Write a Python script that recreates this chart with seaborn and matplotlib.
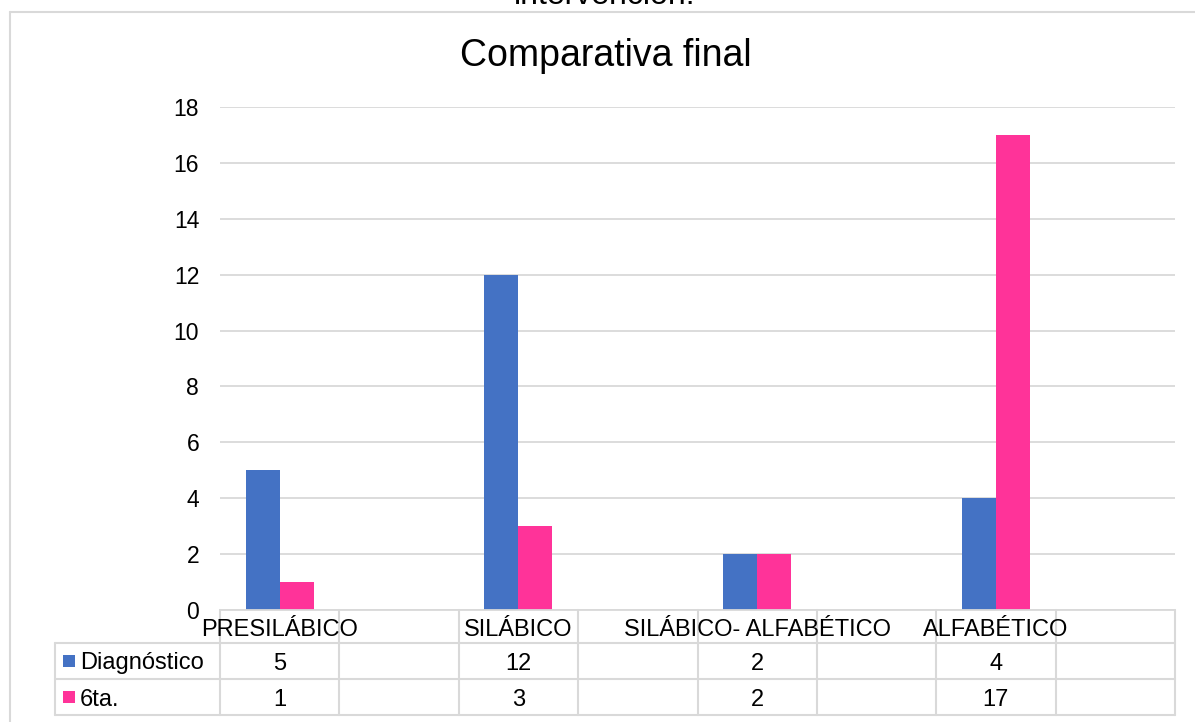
import numpy as np
import pandas as pd
import matplotlib
matplotlib.use("Agg")
import matplotlib.pyplot as plt
import seaborn as sns
from matplotlib import transforms
from matplotlib.patches import Rectangle
from matplotlib.lines import Line2D

# ---------------- data ----------------
categories = ["PRESILÁBICO", "SILÁBICO", "SILÁBICO- ALFABÉTICO", "ALFABÉTICO"]
series_names = ["Diagnóstico", "6ta."]
diagnostico = [5, 12, 2, 4]
sexta = [1, 3, 2, 17]
y_ticks = [0, 2, 4, 6, 8, 10, 12, 14, 16, 18]
title = "Comparativa final"
top_text = "intervención."
colors = ["#4472C4", "#FF3399"]

# ---------------- style ----------------
sns.set_theme(style="white")
plt.rcParams['font.family'] = ['Liberation Sans', 'DejaVu Sans']

W, H = 1195, 722
fig = plt.figure(figsize=(W / 100, H / 100), dpi=100, facecolor="white")


def fx(x):
    return x / W


def fy(y):
    return 1 - y / H


ax = fig.add_axes([fx(220), fy(610), fx(1175) - fx(220), fy(107) - fy(610)])

# interleave empty category slots like the original
order = []
for i, c in enumerate(categories):
    order += [c, " " * (i + 1)]

df = pd.DataFrame({
    "categoria": categories * 2,
    "serie": [series_names[0]] * len(categories) + [series_names[1]] * len(categories),
    "valor": diagnostico + sexta,
})

sns.barplot(data=df, x="categoria", y="valor", hue="serie", order=order,
            hue_order=series_names, palette=colors, width=0.57, gap=0,
            saturation=1, errorbar=None, legend=False, linewidth=0,
            edgecolor="none", ax=ax)

ax.set_xlim(-0.5, len(order) - 0.5)
ax.set_ylim(0, 18)
ax.set_yticks(y_ticks)
ax.set_xticks([])
ax.set_xlabel("")
ax.set_ylabel("")
ax.yaxis.grid(True, color="#D9D9D9", lw=1.3)
ax.set_axisbelow(True)
for s in ["top", "right", "left"]:
    ax.spines[s].set_visible(False)
ax.spines["bottom"].set_color("#D9D9D9")
ax.spines["bottom"].set_linewidth(1.3)
ax.tick_params(axis="y", length=0, pad=15, labelsize=16.5, colors="black")

# ---------------- data table ----------------
trans = transforms.blended_transform_factory(ax.transData, fig.transFigure)
grid_c = "#D9D9D9"
fs = 17

for k in range(len(order) + 1):
    ax.add_artist(Line2D([k - 0.5, k - 0.5], [fy(610), fy(715)], transform=trans,
                         color=grid_c, lw=1.5, clip_on=False))
for yy in [643, 679, 715]:
    fig.add_artist(Line2D([fx(55), fx(1175)], [fy(yy), fy(yy)], transform=fig.transFigure,
                          color=grid_c, lw=1.5))
fig.add_artist(Line2D([fx(55), fx(55)], [fy(643), fy(715)], transform=fig.transFigure,
                      color=grid_c, lw=1.5))

for i, c in enumerate(categories):
    ax.text(order.index(c), fy(627), c, transform=trans, ha="center", va="center_baseline",
            fontsize=fs, color="black", clip_on=False)

rows = [diagnostico, sexta]
row_y = [661, 697]
for r, (vals, yy) in enumerate(zip(rows, row_y)):
    for c, v in zip(categories, vals):
        ax.text(order.index(c), fy(yy), str(v), transform=trans, ha="center",
                va="center_baseline", fontsize=fs, color="black", clip_on=False)
    fig.add_artist(Rectangle((fx(63), fy(yy + 6)), 12 / W, 12 / H, transform=fig.transFigure,
                             facecolor=colors[r], edgecolor="none"))
    fig.text(fx(80), fy(yy), series_names[r], ha="left", va="center_baseline",
             fontsize=fs, color="black")

# ---------------- title & frame ----------------
fig.text(fx(606), fy(66), title, ha="center", va="baseline", fontsize=27, color="black")
fig.text(fx(605), fy(4.5), top_text, ha="center", va="baseline", fontsize=23, color="black")

fig.add_artist(Line2D([fx(10), 1.0], [fy(12), fy(12)], transform=fig.transFigure,
                      color=grid_c, lw=1.5))
fig.add_artist(Line2D([fx(10), fx(10)], [fy(12), 0.0], transform=fig.transFigure,
                      color=grid_c, lw=1.5))

fig.savefig("out.png", dpi=100, facecolor="white")
